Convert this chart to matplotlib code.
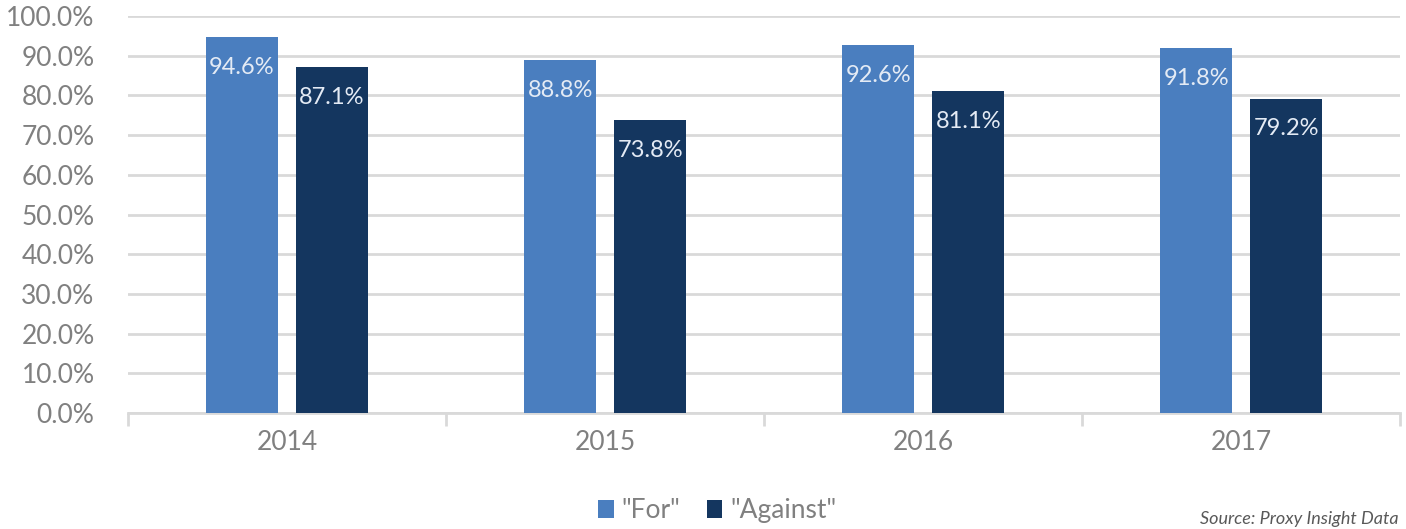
import matplotlib.pyplot as plt
import numpy as np

years = ['2014', '2015', '2016', '2017']
for_vals = [94.6, 88.8, 92.6, 91.8]
against_vals = [87.1, 73.8, 81.1, 79.2]

plt.rcParams['font.family'] = ['Lato', 'DejaVu Sans']

fig = plt.figure(figsize=(14.06, 5.29), dpi=100)
ax = fig.add_axes([0.091, 0.219, 0.905, 0.751])

x = np.arange(len(years))
w = 0.226
off = 0.1415
b1 = ax.bar(x - off, for_vals, w, color='#4a7ebf', label='"For"', zorder=3)
b2 = ax.bar(x + off, against_vals, w, color='#14365f', label='"Against"', zorder=3)

for bars, vals in ((b1, for_vals), (b2, against_vals)):
    for r, v in zip(bars, vals):
        ax.text(r.get_x() + r.get_width() / 2, v - 7.6, f'{v:.1f}%',
                ha='center', va='center', color='#e4ebf5', fontsize=17, zorder=4)

ax.set_xlim(-0.5, len(years) - 0.5)
ax.set_ylim(0, 100)
ax.set_yticks(np.arange(0, 101, 10))
ax.set_yticklabels([f'{t:.1f}%' for t in range(0, 101, 10)])
ax.yaxis.grid(True, color='#d9d9d9', linewidth=2, zorder=0)
ax.set_axisbelow(True)

ax.set_xticks(x)
ax.set_xticklabels(years)
ax.tick_params(axis='x', length=0, pad=12, labelsize=19, labelcolor='#808080')
ax.tick_params(axis='y', length=0, pad=24, labelsize=19, labelcolor='#808080')

# category separator ticks
ax.set_xticks(np.arange(-0.5, len(years)), minor=True)
ax.tick_params(axis='x', which='minor', length=9, width=2, color='#d9d9d9')

for s in ['top', 'right', 'left']:
    ax.spines[s].set_visible(False)
ax.spines['bottom'].set_color('#d9d9d9')
ax.spines['bottom'].set_linewidth(2)

fig.legend(handles=[b1, b2], loc='center', bbox_to_anchor=(0.51, 0.035), ncol=2,
           frameon=False, fontsize=19, labelcolor='#808080', handlelength=0.6,
           handleheight=0.7, handletextpad=0.3, columnspacing=1.0)

fig.text(0.995, 0.004, 'Source: Proxy Insight Data', ha='right', va='bottom',
         fontsize=13, style='italic', color='#595959')

fig.savefig('out.png', dpi=100)
